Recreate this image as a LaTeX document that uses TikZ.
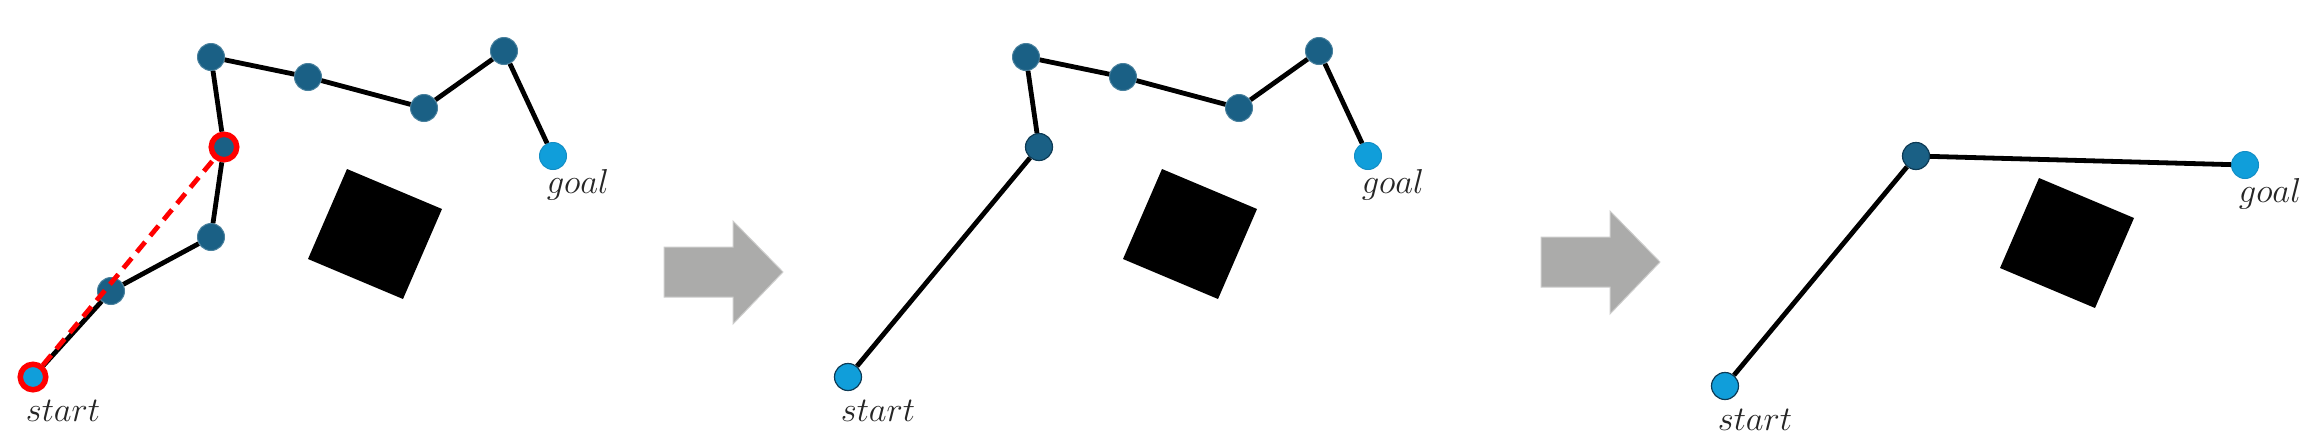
\documentclass[tikz,border=0pt]{standalone}
\definecolor{wpdark}{HTML}{1A6085}
\definecolor{wplight}{HTML}{109EDA}
\definecolor{wpedge}{HTML}{0E3B55}
\definecolor{arrowgray}{HTML}{ABABAA}
\definecolor{labelgray}{HTML}{262626}
\tikzset{
  wp/.style={circle, fill=wpdark, draw=wpdark!80!white, line width=0.5pt, minimum size=13.5pt, inner sep=0pt},
  wpend/.style={wp, fill=wplight, draw=wplight!75!wpdark},
  outlined/.style={draw=wpedge, line width=0.6pt},
  ringed/.style={draw=red, line width=2.75pt, minimum size=12.75pt},
  pathline/.style={line width=2.4pt, black},
  shortcut/.style={line width=2.4pt, red, dash pattern=on 6.5pt off 4pt},
  obstacle/.style={fill=black},
  bigarrow/.style={fill=arrowgray, draw=arrowgray!60!white, line width=0.5pt},
  lbl/.style={anchor=base, text=labelgray, font=\fontsize{17}{20}\selectfont, inner sep=0pt},
}
\begin{document}
\begin{tikzpicture}[x=0.5pt, y=-0.5pt]
\useasboundingbox (0,0) rectangle (2308,440);

% ---------- panel 1 ----------
\fill[obstacle] (347,169) -- (442,209) -- (403,299) -- (308,259) -- cycle;
\node[wpend, ringed] (p1s) at (33,377) {};
\node[wp] (p1a) at (111,291) {};
\node[wp] (p1b) at (211,237) {};
\node[wp, ringed] (p1c) at (224,147) {};
\node[wp] (p1d) at (211,57) {};
\node[wp] (p1e) at (308,77) {};
\node[wp] (p1f) at (424,108) {};
\node[wp] (p1g) at (504,51) {};
\node[wpend] (p1t) at (553,156) {};
\draw[pathline] (p1s) -- (p1a) -- (p1b) -- (p1c) -- (p1d) -- (p1e) -- (p1f) -- (p1g) -- (p1t);
\draw[shortcut] (p1s) -- (p1c);
\node[lbl] (p1sl) at (63,421) {$start$};
\node[lbl] (p1tl) at (578,193) {$goal$};

% ---------- arrow 1 ----------
\filldraw[bigarrow] (664,247) -- (733,247) -- (733,221) -- (783,272) -- (733,324) -- (733,297) -- (664,297) -- cycle;

% ---------- panel 2 ----------
\begin{scope}[shift={(815,0)}]
\fill[obstacle] (347,169) -- (442,209) -- (403,299) -- (308,259) -- cycle;
\node[wpend, outlined] (p2s) at (33,377) {};
\node[wp, outlined] (p2c) at (224,147) {};
\node[wp] (p2d) at (211,57) {};
\node[wp] (p2e) at (308,77) {};
\node[wp] (p2f) at (424,108) {};
\node[wp] (p2g) at (504,51) {};
\node[wpend] (p2t) at (553,156) {};
\draw[pathline] (p2s) -- (p2c) -- (p2d) -- (p2e) -- (p2f) -- (p2g) -- (p2t);
\node[lbl] (p2sl) at (63,421) {$start$};
\node[lbl] (p2tl) at (578,193) {$goal$};
\end{scope}

% ---------- arrow 2 ----------
\filldraw[bigarrow] (1541,237) -- (1610,237) -- (1610,211) -- (1660,262) -- (1610,314) -- (1610,287) -- (1541,287) -- cycle;

% ---------- panel 3 ----------
\begin{scope}[shift={(1692,9)}]
\fill[obstacle] (347,169) -- (442,209) -- (403,299) -- (308,259) -- cycle;
\node[wpend, outlined] (p3s) at (33,377) {};
\node[wp, outlined] (p3c) at (224,147) {};
\node[wpend] (p3t) at (553,156) {};
\draw[pathline] (p3s) -- (p3c) -- (p3t);
\node[lbl] (p3sl) at (63,421) {$start$};
\node[lbl] (p3tl) at (578,193) {$goal$};
\end{scope}
\end{tikzpicture}
\end{document}
